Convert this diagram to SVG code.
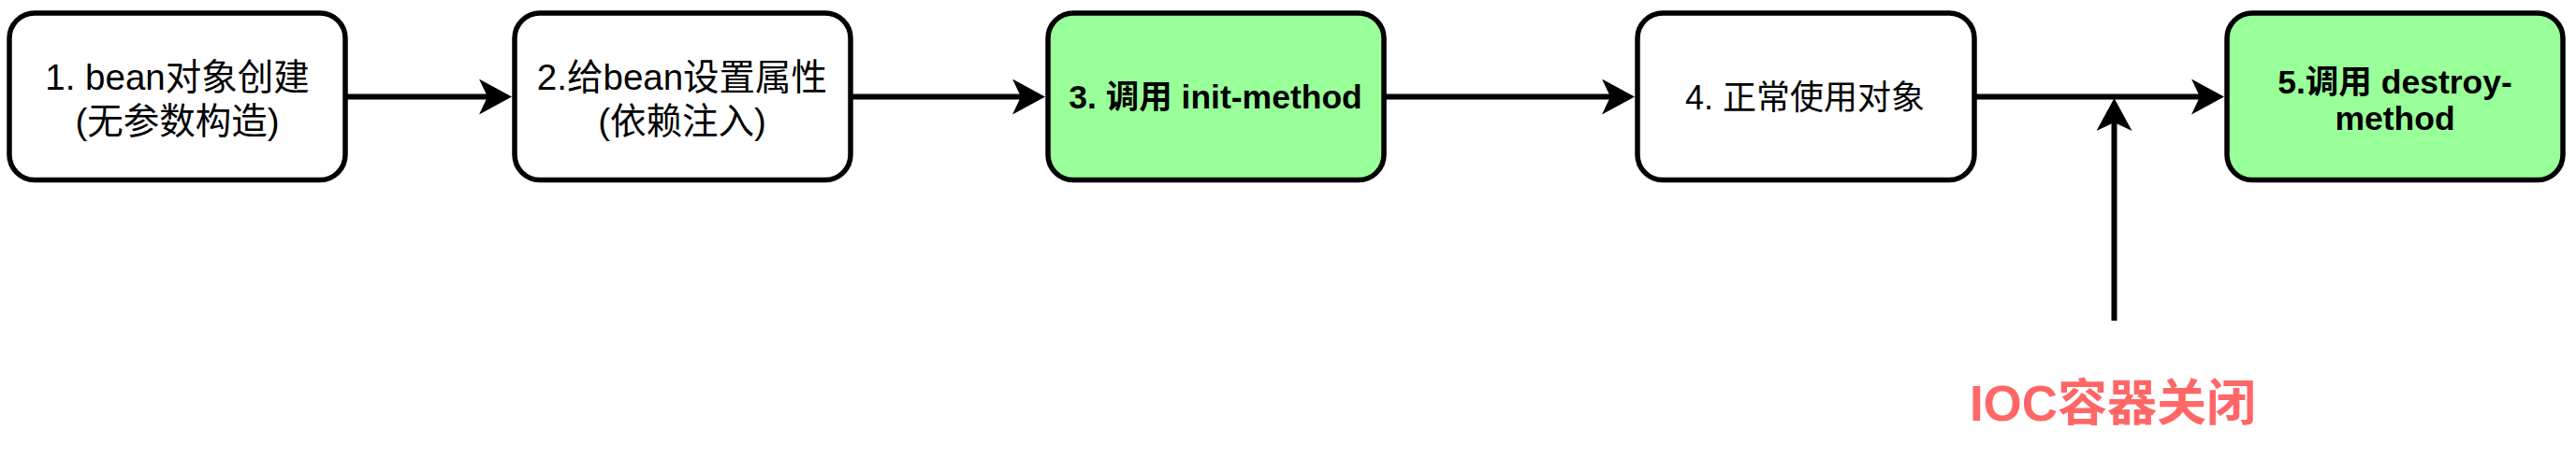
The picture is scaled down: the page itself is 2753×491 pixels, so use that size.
<svg xmlns="http://www.w3.org/2000/svg" width="2753" height="491" viewBox="0 0 2753 491">
  <style>
    .box { fill: #FFFFFF; stroke: #000000; stroke-width: 5.5; }
    .green { fill: #99FF99; }
    .t { font-family: "Liberation Sans", "Noto Sans CJK SC", sans-serif; fill: #000000; text-anchor: middle; }
    .n { font-size: 38.5px; }
    .b { font-size: 35.5px; font-weight: bold; }
    .m { font-size: 36px; }
    .edge { fill: none; stroke: #000000; stroke-width: 6; marker-end: url(#arrow); }
    .label { font-family: "Liberation Sans", "Noto Sans CJK SC", sans-serif; font-size: 53px; font-weight: bold; fill: #FF6666; text-anchor: middle; }
  </style>
  <defs>
    <marker id="arrow" viewBox="0 0 35 38" refX="9" refY="19" markerWidth="35" markerHeight="38" markerUnits="userSpaceOnUse" orient="auto">
      <path d="M0,0 L35,19 L0,38 L9,19 Z" fill="#000000"/>
    </marker>
  </defs>
  <rect width="2753" height="491" fill="#FFFFFF"/>

  <g id="connectors">
    <path class="edge" d="M371,103.5 L521,103.5"/>
    <path class="edge" d="M911,103.5 L1091,103.5"/>
    <path class="edge" d="M1481,103.5 L1721,103.5"/>
    <path class="edge" d="M2112,103.5 L2351,103.5"/>
    <path class="edge" d="M2259.5,343 L2259.5,131"/>
  </g>

  <g id="node1">
    <rect class="box" x="10" y="14" width="359" height="178.5" rx="27" ry="27"/>
    <text class="t n" x="189.5" y="96">1. bean对象创建</text>
    <text class="t n" x="189.5" y="143">(无参数构造)</text>
  </g>

  <g id="node2">
    <rect class="box" x="550" y="14" width="359" height="178.5" rx="27" ry="27"/>
    <text class="t n" x="729" y="96">2.给bean设置属性</text>
    <text class="t n" x="729" y="143">(依赖注入)</text>
  </g>

  <g id="node3">
    <rect class="box green" x="1120" y="14" width="359" height="178.5" rx="27" ry="27"/>
    <text class="t b" x="1299" y="116">3. 调用 init-method</text>
  </g>

  <g id="node4">
    <rect class="box" x="1750" y="14" width="360" height="178.5" rx="27" ry="27"/>
    <text class="t m" x="1929" y="117">4. 正常使用对象</text>
  </g>

  <g id="node5">
    <rect class="box green" x="2380" y="14" width="359" height="178.5" rx="27" ry="27"/>
    <text class="t b" x="2559.5" y="100">5.调用 destroy-</text>
    <text class="t b" x="2559.5" y="139">method</text>
  </g>

  <g id="ioc-label">
    <text class="label" x="2258" y="450">IOC容器关闭</text>
  </g>
</svg>
